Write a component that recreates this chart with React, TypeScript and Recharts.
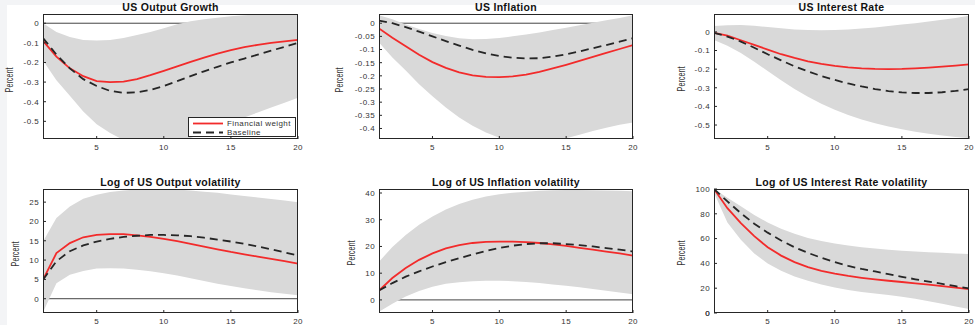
import React from 'react';
import { ComposedChart, Line, Area, XAxis, YAxis, ReferenceLine } from 'recharts';

// horizon (quarters)
const periods = [1, 2, 3, 4, 5, 6, 7, 8, 9, 10, 11, 12, 13, 14, 15, 16, 17, 18, 19, 20];
const xTicks = [5, 10, 15, 20];

// US Output Growth
const outGrowthFin = [-0.09, -0.17, -0.23, -0.27, -0.295, -0.3, -0.298, -0.285, -0.265, -0.243, -0.22, -0.197, -0.175, -0.155, -0.137, -0.122, -0.11, -0.1, -0.092, -0.085];
const outGrowthBase = [-0.075, -0.16, -0.23, -0.285, -0.32, -0.345, -0.355, -0.352, -0.34, -0.32, -0.295, -0.27, -0.245, -0.222, -0.2, -0.18, -0.16, -0.14, -0.12, -0.1];
const outGrowthLo = [-0.19, -0.29, -0.37, -0.45, -0.515, -0.56, -0.595, -0.62, -0.63, -0.625, -0.61, -0.585, -0.56, -0.535, -0.51, -0.48, -0.455, -0.43, -0.405, -0.38];
const outGrowthHi = [0.0, -0.045, -0.07, -0.085, -0.088, -0.085, -0.075, -0.06, -0.045, -0.025, -0.005, 0.01, 0.02, 0.028, 0.035, 0.04, 0.045, 0.05, 0.055, 0.06];
const outGrowthTicks = [-0.5, -0.4, -0.3, -0.2, -0.1, 0];

// US Inflation
const inflFin = [-0.02, -0.055, -0.088, -0.12, -0.148, -0.17, -0.187, -0.198, -0.204, -0.205, -0.202, -0.195, -0.185, -0.172, -0.158, -0.143, -0.128, -0.113, -0.098, -0.083];
const inflBase = [0.01, 0.0, -0.015, -0.032, -0.05, -0.068, -0.085, -0.101, -0.115, -0.125, -0.131, -0.134, -0.133, -0.127, -0.118, -0.107, -0.095, -0.083, -0.07, -0.057];
const inflLo = [-0.073, -0.13, -0.18, -0.232, -0.278, -0.32, -0.358, -0.39, -0.415, -0.435, -0.448, -0.455, -0.455, -0.448, -0.437, -0.424, -0.41, -0.397, -0.386, -0.377];
const inflHi = [0.03, 0.015, -0.005, -0.022, -0.037, -0.049, -0.057, -0.061, -0.06, -0.056, -0.05, -0.043, -0.035, -0.026, -0.017, -0.008, 0.002, 0.011, 0.02, 0.03];
const inflTicks = [-0.4, -0.35, -0.3, -0.25, -0.2, -0.15, -0.1, -0.05, 0];

// US Interest Rate
const rateFin = [-0.005, -0.02, -0.045, -0.07, -0.095, -0.12, -0.14, -0.158, -0.172, -0.183, -0.191, -0.196, -0.199, -0.2, -0.199, -0.196, -0.192, -0.187, -0.181, -0.174];
const rateBase = [-0.005, -0.025, -0.052, -0.085, -0.12, -0.153, -0.185, -0.212, -0.237, -0.258, -0.277, -0.293, -0.307, -0.318, -0.325, -0.328, -0.328, -0.324, -0.317, -0.307];
const rateLo = [-0.043, -0.075, -0.113, -0.16, -0.21, -0.26, -0.307, -0.348, -0.386, -0.418, -0.446, -0.47, -0.49, -0.508, -0.523, -0.536, -0.547, -0.556, -0.564, -0.57];
const rateHi = [0.032, 0.036, 0.037, 0.033, 0.026, 0.019, 0.013, 0.01, 0.009, 0.01, 0.013, 0.018, 0.024, 0.031, 0.039, 0.047, 0.056, 0.065, 0.075, 0.086];
const rateTicks = [-0.5, -0.4, -0.3, -0.2, -0.1, 0];

// Log of US Output volatility
const outVolFin = [4.9, 11.8, 14.4, 15.9, 16.5, 16.7, 16.7, 16.4, 16.0, 15.5, 14.9, 14.2, 13.5, 12.8, 12.1, 11.5, 10.9, 10.3, 9.7, 9.1];
const outVolBase = [4.9, 9.7, 12.3, 13.8, 14.8, 15.5, 16.0, 16.3, 16.5, 16.5, 16.4, 16.2, 15.8, 15.3, 14.8, 14.2, 13.5, 12.8, 12.0, 11.2];
const outVolLo = [-3.5, 4.0, 6.2, 7.2, 7.8, 7.9, 7.8, 7.5, 7.1, 6.6, 6.0, 5.3, 4.6, 3.9, 3.3, 2.7, 2.2, 1.7, 1.3, 0.9];
const outVolHi = [14.8, 20.9, 23.9, 25.9, 26.9, 27.6, 28.0, 28.3, 28.4, 28.4, 28.3, 28.0, 27.7, 27.4, 27.0, 26.6, 26.2, 25.8, 25.4, 25.0];
const outVolTicks = [0, 5, 10, 15, 20, 25];

// Log of US Inflation volatility
const inflVolFin = [3.5, 8.2, 11.9, 15.0, 17.4, 19.3, 20.5, 21.3, 21.7, 21.8, 21.8, 21.6, 21.3, 20.8, 20.2, 19.5, 18.8, 18.1, 17.4, 16.6];
const inflVolBase = [3.5, 6.3, 8.7, 10.7, 12.5, 14.1, 15.6, 17.0, 18.3, 19.4, 20.3, 20.9, 21.2, 21.2, 20.9, 20.5, 20.0, 19.4, 18.8, 18.1];
const inflVolLo = [-4.4, -1.4, 1.3, 3.3, 4.9, 6.0, 6.6, 7.0, 7.2, 7.2, 7.0, 6.7, 6.3, 5.8, 5.3, 4.7, 4.1, 3.4, 2.8, 2.1];
const inflVolHi = [14.3, 19.8, 24.3, 28.1, 31.2, 33.8, 35.9, 37.5, 38.7, 39.5, 40.1, 40.5, 40.8, 41.0, 41.1, 41.1, 41.0, 40.9, 40.8, 40.7];
const inflVolTicks = [0, 10, 20, 30, 40];

// Log of US Interest Rate volatility
const rateVolFin = [100, 84.5, 72.5, 62.0, 53.0, 46.3, 41.0, 37.0, 34.0, 31.7, 29.9, 28.4, 27.1, 26.0, 25.0, 23.9, 22.8, 21.6, 20.4, 19.2];
const rateVolBase = [100, 90.0, 80.5, 72.0, 64.8, 58.5, 53.0, 48.5, 44.5, 41.0, 38.0, 35.5, 33.5, 31.3, 29.2, 27.2, 25.3, 23.5, 21.6, 19.8];
const rateVolLo = [97, 73, 59, 48, 40, 34, 29.5, 26, 23, 20.5, 18.5, 17, 15.8, 14.5, 13.2, 11.5, 9.5, 7.5, 5.3, 3.2];
const rateVolHi = [100, 93, 86, 79, 73, 68, 64, 60.5, 58, 56, 54.5, 53, 52, 51, 50.2, 49.5, 49, 48.5, 48, 47.6];
const rateVolTicks = [0, 20, 40, 60, 80, 100];

const FONT = '"Liberation Sans", Arial, Helvetica, sans-serif';
const RED = '#f22b2b';
const DARK = '#262626';

type PanelCfg = {
  title: string;
  fin: number[];
  base: number[];
  lo: number[];
  hi: number[];
  ticks: number[];
  domain: [number, number];
  zero: boolean;
  box: { left: number; top: number; w: number; h: number };
  yLabelAt: [number, number];
  legend?: boolean;
};

const panels: PanelCfg[] = [
  { title: 'US Output Growth', fin: outGrowthFin, base: outGrowthBase, lo: outGrowthLo, hi: outGrowthHi, ticks: outGrowthTicks, domain: [-0.59, 0.047], zero: true, box: { left: 43, top: 14, w: 255, h: 125 }, yLabelAt: [10, 80], legend: true },
  { title: 'US Inflation', fin: inflFin, base: inflBase, lo: inflLo, hi: inflHi, ticks: inflTicks, domain: [-0.44, 0.035], zero: true, box: { left: 379, top: 14, w: 254, h: 125 }, yLabelAt: [340, 80] },
  { title: 'US Interest Rate', fin: rateFin, base: rateBase, lo: rateLo, hi: rateHi, ticks: rateTicks, domain: [-0.575, 0.096], zero: false, box: { left: 714, top: 14, w: 255, h: 125 }, yLabelAt: [682, 79] },
  { title: 'Log of US Output volatility', fin: outVolFin, base: outVolBase, lo: outVolLo, hi: outVolHi, ticks: outVolTicks, domain: [-3.7, 28.4], zero: true, box: { left: 43, top: 189, w: 255, h: 124 }, yLabelAt: [16, 254] },
  { title: 'Log of US Inflation volatility', fin: inflVolFin, base: inflVolBase, lo: inflVolLo, hi: inflVolHi, ticks: inflVolTicks, domain: [-4.9, 41.5], zero: true, box: { left: 379, top: 189, w: 254, h: 124 }, yLabelAt: [352, 253] },
  { title: 'Log of US Interest Rate volatility', fin: rateVolFin, base: rateVolBase, lo: rateVolLo, hi: rateVolHi, ticks: rateVolTicks, domain: [0, 100], zero: false, box: { left: 714, top: 189, w: 255, h: 124 }, yLabelAt: [682, 253] },
];

const tickStyle = { fontSize: 8, fill: '#333', fontFamily: FONT, letterSpacing: 0.4 };

function Panel({ cfg }: { cfg: PanelCfg }) {
  const { left, top, w, h } = cfg.box;
  const data = periods.map((p, i) => ({
    p,
    fin: cfg.fin[i],
    base: cfg.base[i],
    band: [cfg.lo[i], cfg.hi[i]],
  }));
  const width = w + 40 + 6;
  const height = h + 14 + 18;
  // recharts drops the tick label sitting right on the lower edge, so write that one by hand
  const edgeTick = cfg.ticks.find((t) => t === cfg.domain[0]);
  return (
    <>
      <div style={{ position: 'absolute', left: left - 40, top: top - 14 }}>
        <ComposedChart width={width} height={height} data={data} margin={{ top: 14, right: 6, bottom: 2, left: 0 }}>
          <XAxis dataKey="p" type="number" domain={[1, 20]} ticks={xTicks} allowDataOverflow axisLine={false}
            tickSize={-3} tickMargin={8} tickLine={{ stroke: DARK }} tick={tickStyle} height={16} interval={0} />
          <XAxis xAxisId="top" dataKey="p" type="number" orientation="top" domain={[1, 20]} ticks={xTicks} allowDataOverflow
            axisLine={false} tickSize={-3} tickLine={{ stroke: DARK }} tick={false} height={0} />
          <YAxis type="number" domain={cfg.domain} ticks={cfg.ticks} axisLine={false}
            tickSize={-3} tickMargin={7} tickLine={{ stroke: DARK }} tick={tickStyle} width={40} interval={0}
            tickFormatter={(v: number) => String(v)} allowDataOverflow />
          <YAxis yAxisId="right" orientation="right" type="number" domain={cfg.domain} ticks={cfg.ticks} allowDataOverflow
            axisLine={false} tickSize={-3} tickLine={{ stroke: DARK }} tick={false} width={0} />
          {cfg.zero && <ReferenceLine y={0} stroke="#444" strokeWidth={1} zIndex={50} />}
          <Area dataKey="band" type="linear" stroke="none" fill="#d9d9d9" fillOpacity={1} isAnimationActive={false} dot={false} activeDot={false} />
          <Line dataKey="fin" type="linear" stroke={RED} strokeWidth={1.8} dot={false} activeDot={false} isAnimationActive={false} />
          <Line dataKey="base" type="linear" stroke={DARK} strokeWidth={1.8} strokeDasharray="8 5" dot={false} activeDot={false} isAnimationActive={false} />
        </ComposedChart>
      </div>
      {edgeTick !== undefined && (
        <div style={{ position: 'absolute', left: left - 34, width: 30, top: top + h - 4, height: 10, textAlign: 'right', fontFamily: FONT, fontSize: 8, letterSpacing: 0.4, lineHeight: '10px', color: '#333' }}>
          {String(edgeTick)}
        </div>
      )}
      <div style={{ position: 'absolute', left, top, width: w, height: h, boxSizing: 'border-box', border: `1px solid ${DARK}`, pointerEvents: 'none' }} />
      <div style={{ position: 'absolute', left: left - 20, width: w + 40, top: top - 12, textAlign: 'center', fontFamily: FONT, fontWeight: 'bold', fontSize: 10.5, letterSpacing: 0.3, lineHeight: '11px', color: '#111', whiteSpace: 'nowrap' }}>
        {cfg.title}
      </div>
      <div style={{ position: 'absolute', left: cfg.yLabelAt[0] - 20, top: cfg.yLabelAt[1] - 6, width: 40, height: 12, textAlign: 'center', fontFamily: FONT, fontSize: 10, lineHeight: '12px', color: '#333', transform: 'rotate(-90deg) scaleX(0.72)' }}>
        Percent
      </div>
      {cfg.legend && (
        <div style={{ position: 'absolute', left: 188, top: 117, width: 108, height: 20, boxSizing: 'border-box', border: `1px solid ${DARK}`, background: '#fff', fontFamily: FONT, fontSize: 8, letterSpacing: 0.4, color: '#333' }}>
          <div style={{ display: 'flex', alignItems: 'center', height: 9, marginTop: 1 }}>
            <svg width={32} height={9} style={{ marginLeft: 3 }}><line x1={1} x2={31} y1={4.5} y2={4.5} stroke={RED} strokeWidth={1.8} /></svg>
            <span style={{ marginLeft: 3, lineHeight: '9px' }}>Financial weight</span>
          </div>
          <div style={{ display: 'flex', alignItems: 'center', height: 9 }}>
            <svg width={32} height={9} style={{ marginLeft: 3 }}><line x1={1} x2={31} y1={4.5} y2={4.5} stroke={DARK} strokeWidth={1.8} strokeDasharray="8 5" /></svg>
            <span style={{ marginLeft: 3, lineHeight: '9px' }}>Baseline</span>
          </div>
        </div>
      )}
    </>
  );
}

export default function App() {
  return (
    <div style={{ position: 'absolute', left: 0, top: 0, width: 975, height: 325, background: '#f3f4f6', overflow: 'hidden' }}>
      <div style={{ position: 'absolute', left: 7, top: 5, width: 968, height: 320, background: '#fff' }} />
      {panels.map((cfg) => (
        <Panel key={cfg.title} cfg={cfg} />
      ))}
    </div>
  );
}
